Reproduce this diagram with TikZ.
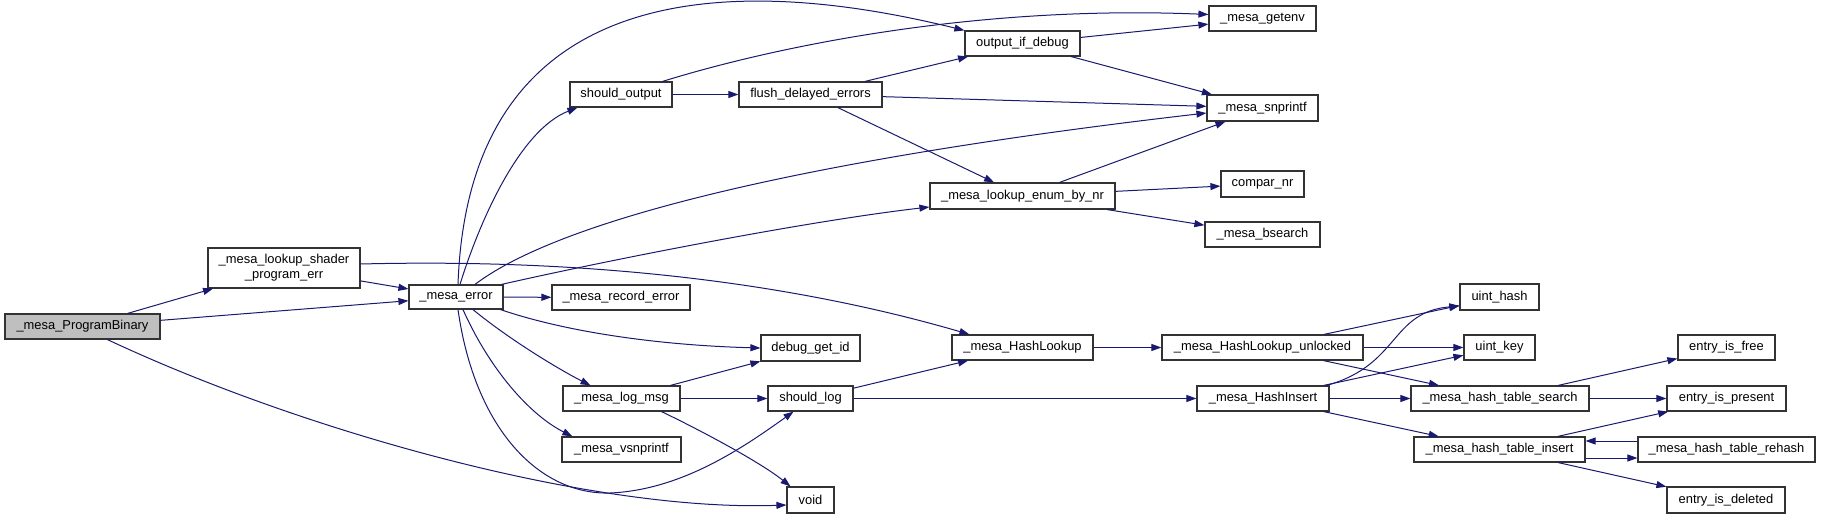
\documentclass[tikz,border=0pt]{standalone}
\usepackage{fontspec}
\setmainfont{Liberation Sans}
\usepackage{tikz}
\usetikzlibrary{arrows.meta}
\usetikzlibrary{positioning}
\definecolor{edgeblue}{RGB}{25,25,112}
\definecolor{rootgray}{RGB}{191,191,191}

\begin{document}
\begin{tikzpicture}[x=1pt, y=-1pt,
        fn/.style 2 args={draw=black!80, line width=1.2pt, fill=white, inner sep=0pt,
            minimum width=#1, minimum height=#2, align=center,
            font=\fontsize{12.9}{15}\selectfont},
        call/.style={draw=edgeblue, line width=1pt, -{Triangle[length=10pt,width=7pt]}}]
        \fill[white] (0,0) rectangle (1821,519);
        \useasboundingbox (0,0) rectangle (1821,519);
        \node[fn={155}{25}, fill=rootgray] (pb) at (82.5,326.5) {\_mesa\_ProgramBinary};
        \node[fn={152}{40}] (lspe) at (284,268) {\_mesa\_lookup\_shader\\\_program\_err};
        \node[fn={94}{24}] (err) at (456,297) {\_mesa\_error};
        \node[fn={102}{25}] (so) at (621,94.5) {should\_output};
        \node[fn={143}{25}] (fde) at (810.5,94.5) {flush\_delayed\_errors};
        \node[fn={138}{25}] (rec) at (621,297.5) {\_mesa\_record\_error};
        \node[fn={99}{26}] (dgi) at (810.5,348) {debug\_get\_id};
        \node[fn={117}{25}] (lmsg) at (621.5,398.5) {\_mesa\_log\_msg};
        \node[fn={85}{25}] (slog) at (810.5,398.5) {should\_log};
        \node[fn={119}{25}] (vsn) at (621.5,449.5) {\_mesa\_vsnprintf};
        \node[fn={47}{26}] (void) at (810.5,500) {void};
        \node[fn={107}{25}] (getenv) at (1262.5,18.5) {\_mesa\_getenv};
        \node[fn={115}{25}] (oid) at (1022.5,43.5) {output\_if\_debug};
        \node[fn={111}{26}] (snp) at (1262.5,108) {\_mesa\_snprintf};
        \node[fn={83}{26}] (cnr) at (1262.5,184) {compar\_nr};
        \node[fn={185}{26}] (len) at (1022.5,196) {\_mesa\_lookup\_enum\_by\_nr};
        \node[fn={115}{25}] (bs) at (1262.5,234.5) {\_mesa\_bsearch};
        \node[fn={141}{25}] (hl) at (1022.5,347.5) {\_mesa\_HashLookup};
        \node[fn={201}{25}] (hlu) at (1262.5,347.5) {\_mesa\_HashLookup\_unlocked};
        \node[fn={132}{25}] (hi) at (1263,398.5) {\_mesa\_HashInsert};
        \node[fn={79}{26}] (uh) at (1499.5,297) {uint\_hash};
        \node[fn={71}{25}] (uk) at (1499.5,347.5) {uint\_key};
        \node[fn={97}{25}] (eif) at (1726.5,347.5) {entry\_is\_free};
        \node[fn={178}{25}] (hts) at (1500,398.5) {\_mesa\_hash\_table\_search};
        \node[fn={119}{25}] (eip) at (1726.5,398.5) {entry\_is\_present};
        \node[fn={171}{25}] (hti) at (1499.5,449.5) {\_mesa\_hash\_table\_insert};
        \node[fn={177}{25}] (htr) at (1726.5,449.5) {\_mesa\_hash\_table\_rehash};
        \node[fn={118}{26}] (eid) at (1726,500) {entry\_is\_deleted};

        \draw[call] (pb) -- (lspe);
        \draw[call] (pb) -- (err);
        \draw[call] ([xshift=25pt]pb.south) .. controls (300,430) and (590,512) .. ([yshift=-5pt]void.west);
        \draw[call] (lspe) -- (err);
        \draw[call] ([yshift=4pt]lspe.east) .. controls (600,258) and (800,285) .. ([xshift=18pt]hl.north west);
        \draw[call] ([xshift=4pt]err.north) .. controls (480,220) and (520,130) .. ([xshift=8pt]so.south west);
        \draw[call] ([xshift=2pt]err.north) .. controls (470,-60) and (800,-10) .. (oid.north west);
        \draw[call] ([xshift=19pt]err.north) .. controls (560,220) and (800,160) .. ([yshift=-5pt]snp.west);
        \draw[call] ([xshift=-2pt]err.north east) .. controls (600,262) and (800,222) .. ([yshift=-11pt]len.west);
        \draw[call] (err) -- (rec);
        \draw[call] ([xshift=-3pt]err.south east) .. controls (560,330) and (650,345) .. (dgi.west);
        \draw[call] ([xshift=17pt]err.south) .. controls (510,340) and (560,370) .. ([xshift=-31pt]lmsg.north);
        \draw[call] ([xshift=7pt]err.south) .. controls (490,370) and (530,415) .. ([xshift=11pt]vsn.north west);
        \draw[call] ([xshift=2pt]err.south) .. controls (475,430) and (540,495) .. (610,493)
            .. controls (680,490) and (740,450) .. ([xshift=-17pt]slog.south);
        \draw[call] (so) -- (fde);
        \draw[call] ([xshift=-10pt]so.north east) .. controls (780,45) and (980,5) .. ([yshift=4pt]getenv.west);
        \draw[call] (fde) -- (oid);
        \draw[call] (fde) -- (snp);
        \draw[call] (fde) -- (len);
        \draw[call] (oid) -- (getenv);
        \draw[call] (oid) -- (snp);
        \draw[call] (len) -- (snp);
        \draw[call] (len) -- (cnr);
        \draw[call] (len) -- (bs);
        \draw[call] (lmsg) -- (dgi);
        \draw[call] (lmsg) -- (slog);
        \draw[call] ([xshift=40pt]lmsg.south) .. controls (700,430) and (760,462) .. ([xshift=-20pt]void.north);
        \draw[call] (slog) -- (hl);
        \draw[call] (slog) -- (hi);
        \draw[call] (hl) -- (hlu);
        \draw[call] (hlu) -- (uh);
        \draw[call] (hlu) -- (uk);
        \draw[call] (hlu) -- (hts);
        \draw[call] ([xshift=-3pt]hi.north east) .. controls (1400,365) and (1390,312) .. ([yshift=-9pt]uh.west);
        \draw[call] (hi) -- (uk);
        \draw[call] (hi) -- (hts);
        \draw[call] (hi) -- (hti);
        \draw[call] (hts) -- (eif);
        \draw[call] (hts) -- (eip);
        \draw[call] (hti) -- (eip);
        \draw[call] ([yshift=-8.5pt]hti.east) -- ([yshift=-8.5pt]htr.west);
        \draw[call] ([yshift=8.5pt]htr.west) -- ([yshift=8.5pt]hti.east);
        \draw[call] (hti) -- (eid);
    \end{tikzpicture}
\end{document}
